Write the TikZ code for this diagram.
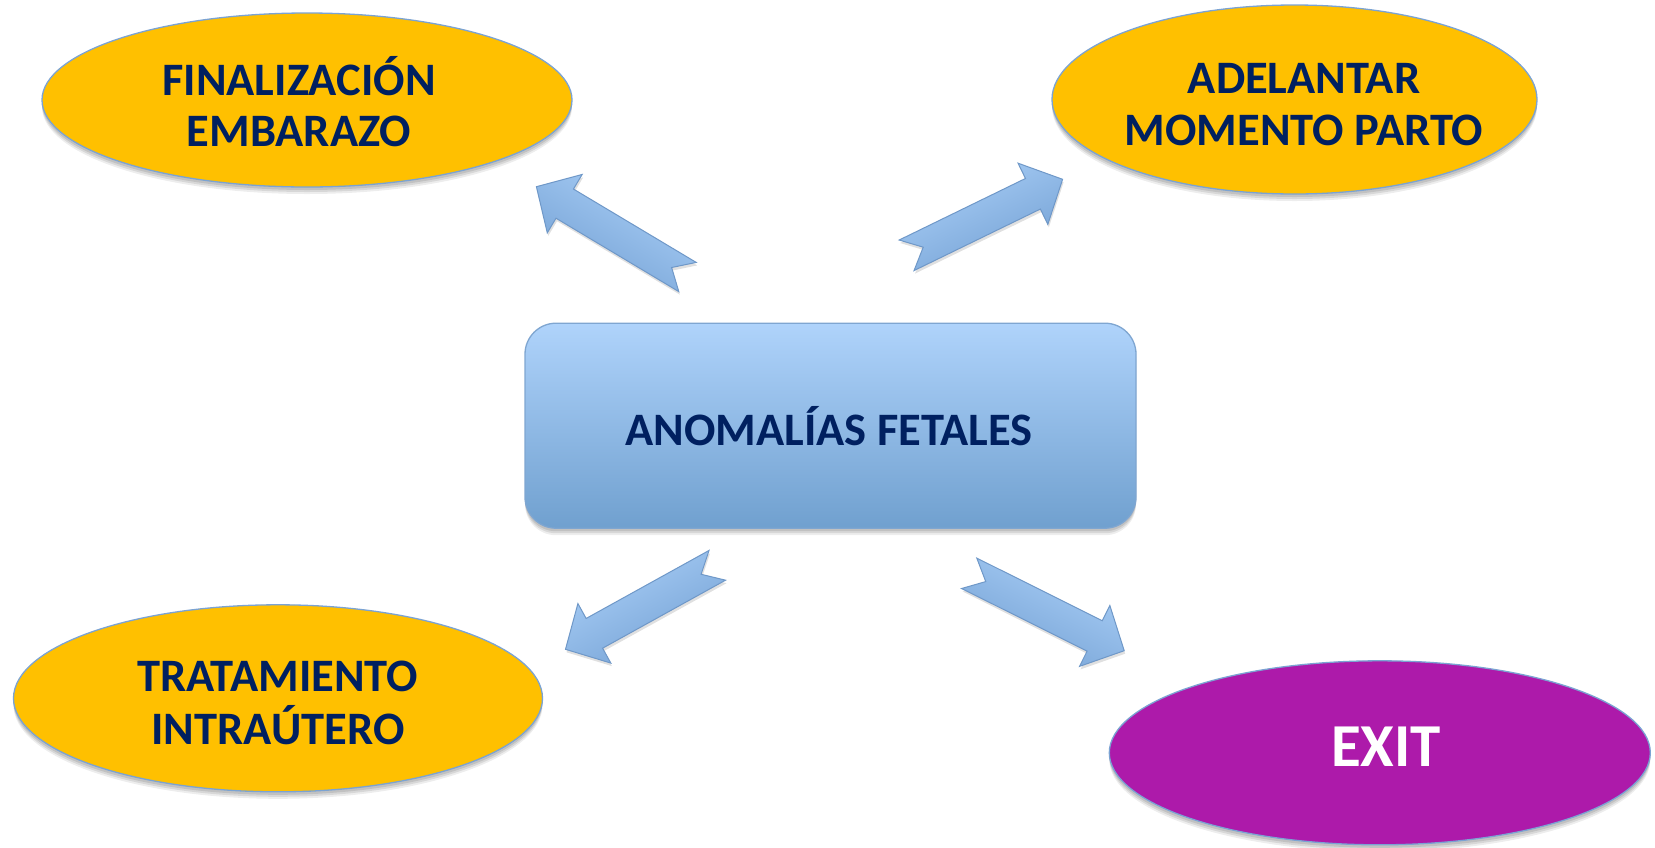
\documentclass[tikz,border=0pt]{standalone}
\usepackage{fontspec}
\setmainfont{Carlito}
\usetikzlibrary{shapes.geometric,calc}
\definecolor{gold}{HTML}{FFC000}
\definecolor{navy}{HTML}{002060}
\definecolor{exitpurple}{HTML}{AD1AAA}
\definecolor{ovalline}{HTML}{7BA3D3}
\definecolor{boxtop}{HTML}{AFD3FB}
\definecolor{boxbottom}{HTML}{70A0CF}
\definecolor{boxline}{HTML}{7FA6D1}
\definecolor{arrowlight}{HTML}{AACFF7}
\definecolor{arrowdark}{HTML}{74A1D4}
\definecolor{arrowline}{HTML}{6F98C8}
\tikzset{
  softshadow/.style={
    preaction={fill=black,opacity=0.07,transform canvas={yshift=-7pt}},
    preaction={fill=black,opacity=0.09,transform canvas={yshift=-5pt}},
    preaction={fill=black,opacity=0.10,transform canvas={yshift=-3pt}}},
  oval/.style={ellipse,draw=ovalline,line width=1.3pt,inner sep=0pt,softshadow},
  txt/.style={font=\fontsize{46.5}{52}\selectfont\bfseries,text=navy,anchor=base,inner sep=0pt},
  arrowbody/.style={draw=arrowline,line width=1pt,line join=miter,
    top color=arrowlight,bottom color=arrowdark,
    preaction={fill=black,opacity=0.12,transform canvas={shift={(1pt,-3pt)}}}}
}
\newcommand{\blockarrow}[3]{%
  \shade[arrowbody,shading angle=#3]
    ($(#1)!17pt!90:(#2)$) --
    ($(#2)!33pt!(#1)!17pt!90:(#2)$) --
    ($(#2)!33pt!(#1)!34pt!90:(#2)$) --
    (#2) --
    ($(#2)!33pt!(#1)!34pt!-90:(#2)$) --
    ($(#2)!33pt!(#1)!17pt!-90:(#2)$) --
    ($(#1)!17pt!-90:(#2)$) --
    ($(#1)!18.5pt!(#2)$) -- cycle;}
\begin{document}
\begin{tikzpicture}[x=1pt,y=-1pt]
\useasboundingbox[fill=white] (0,0) rectangle (1655,847);

% ovals
\node[oval,fill=gold,minimum width=530pt,minimum height=174pt] (fin) at (307,100) {};
\node[oval,fill=gold,minimum width=485pt,minimum height=189pt] (ade) at (1294.5,99.5) {};
\node[oval,fill=gold,minimum width=529pt,minimum height=187pt] (tra) at (278,698.3) {};
\node[oval,fill=exitpurple,minimum width=541pt,minimum height=184pt] (exit) at (1379.8,752.8) {};

% central box
\node[rectangle,rounded corners=31pt,draw=boxline,line width=1.3pt,
      top color=boxtop,bottom color=boxbottom,softshadow,
      minimum width=611pt,minimum height=205pt,inner sep=0pt] (anom) at (830.5,425.7) {};

% texts
\node[txt] (fin1) at (299,95) {FINALIZACIÓN};
\node[txt] (fin2) at (299,146.7) {EMBARAZO};
\node[txt] (ade1) at (1304,93.3) {ADELANTAR};
\node[txt] (ade2) at (1304,145) {MOMENTO PARTO};
\node[txt] (tra1) at (277.5,691.7) {TRATAMIENTO};
\node[txt] (tra2) at (278,744) {INTRAÚTERO};
\node[txt] (anomt) at (829,445) {ANOMALÍAS FETALES};
\node[txt,text=white,font=\fontsize{61}{70}\selectfont\bfseries] (exitt) at (1386,766.7) {EXIT};

% block arrows
\coordinate (ul-tail) at (687.5,277);
\coordinate (ul-tip)  at (536.4,186.7);
\coordinate (ur-tail) at (906.6,255.3);
\coordinate (ur-tip)  at (1062.6,179.3);
\coordinate (ll-tail) at (717.3,565.3);
\coordinate (ll-tip)  at (565.5,649.3);
\coordinate (lr-tail) at (969.2,573.3);
\coordinate (lr-tip)  at (1124.2,650.7);
\blockarrow{ul-tail}{ul-tip}{-31}
\blockarrow{ur-tail}{ur-tip}{26}
\blockarrow{ll-tail}{ll-tip}{29}
\blockarrow{lr-tail}{lr-tip}{-26.5}
\end{tikzpicture}
\end{document}
